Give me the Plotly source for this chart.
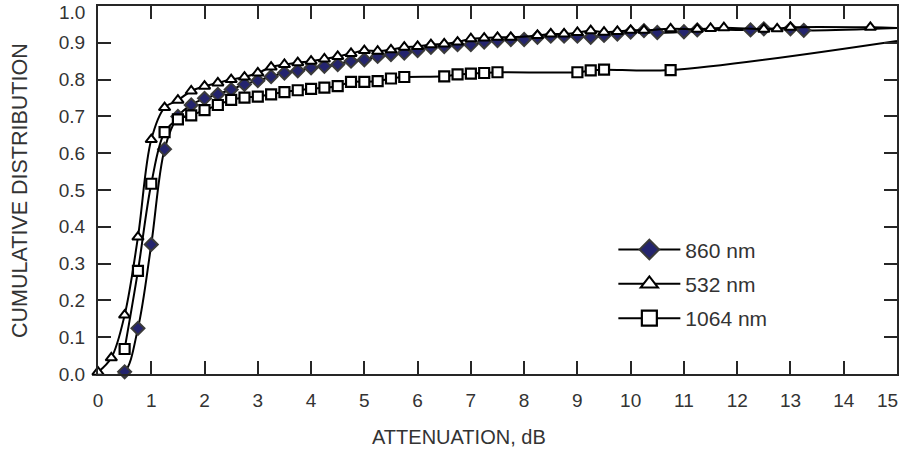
import plotly.graph_objects as go

# ---- data ----
x_860 = [0, 0.25, 0.5, 0.75, 1.0, 1.25, 1.5, 1.75, 2.0, 2.25, 2.5, 2.75, 3.0, 3.25, 3.5, 3.75,
         4.0, 4.25, 4.5, 4.75, 5.0, 5.25, 5.5, 5.75, 6.0, 6.25, 6.5, 6.75, 7.0, 7.25, 7.5, 7.75,
         8.0, 8.25, 8.5, 8.75, 9.0, 9.25, 9.5, 9.75, 10.0, 10.25, 10.5, 11.0, 11.25, 12.25, 12.5,
         13.0, 13.25, 15.0]
y_860 = [0.0, -0.004, 0.006, 0.124, 0.352, 0.611, 0.70, 0.731, 0.749, 0.760, 0.773, 0.787, 0.797,
         0.808, 0.818, 0.824, 0.832, 0.836, 0.841, 0.850, 0.854, 0.863, 0.868, 0.872, 0.879, 0.888,
         0.890, 0.895, 0.895, 0.902, 0.906, 0.909, 0.909, 0.915, 0.918, 0.918, 0.918, 0.915, 0.920,
         0.924, 0.929, 0.933, 0.928, 0.930, 0.935, 0.935, 0.938, 0.938, 0.934, 0.940]
hidden_860 = [0, 15.0]

x_532 = [0, 0.25, 0.5, 0.75, 1.0, 1.25, 1.5, 1.75, 2.0, 2.25, 2.5, 2.75, 3.0, 3.25, 3.5, 3.75,
         4.0, 4.25, 4.5, 4.75, 5.0, 5.25, 5.5, 5.75, 6.0, 6.25, 6.5, 6.75, 7.0, 7.25, 7.5, 7.75,
         8.25, 8.5, 8.75, 9.0, 9.25, 9.5, 9.75, 10.0, 10.25, 10.75, 11.25, 11.5, 11.75, 12.5,
         12.75, 13.0, 14.5, 15.0]
y_532 = [0.005, 0.044, 0.160, 0.372, 0.637, 0.724, 0.744, 0.769, 0.782, 0.791, 0.800, 0.807, 0.818,
         0.834, 0.841, 0.846, 0.850, 0.856, 0.863, 0.871, 0.879, 0.877, 0.881, 0.888, 0.890, 0.895,
         0.897, 0.902, 0.911, 0.913, 0.915, 0.915, 0.920, 0.924, 0.924, 0.928, 0.933, 0.929, 0.931,
         0.934, 0.934, 0.938, 0.937, 0.939, 0.941, 0.937, 0.938, 0.942, 0.942, 0.940]
hidden_532 = [15.0]

x_1064 = [0.5, 0.75, 1.0, 1.25, 1.5, 1.75, 2.0, 2.25, 2.5, 2.75, 3.0, 3.25, 3.5, 3.75, 4.0, 4.25,
          4.5, 4.75, 5.0, 5.25, 5.5, 5.75, 6.5, 6.75, 7.0, 7.25, 7.5, 9.0, 9.25, 9.5, 10.75, 15.0]
y_1064 = [0.068, 0.280, 0.517, 0.657, 0.692, 0.703, 0.717, 0.731, 0.745, 0.751, 0.754, 0.760, 0.766,
          0.771, 0.775, 0.778, 0.782, 0.794, 0.794, 0.796, 0.803, 0.807, 0.809, 0.814, 0.816, 0.818,
          0.820, 0.820, 0.825, 0.827, 0.826, 0.905]
hidden_1064 = [15.0]

x_ticks = list(range(0, 16))
y_ticks = [0.0, 0.1, 0.2, 0.3, 0.4, 0.5, 0.6, 0.7, 0.8, 0.9, 1.0]
x_title = "ATTENUATION, dB"
y_title = "CUMULATIVE DISTRIBUTION"

FONT = "Liberation Sans, Arial, Helvetica, sans-serif"
TXT = "#333333"
AX = "#262626"
TICKFONT = 19

series = [
    ("860 nm", x_860, y_860, hidden_860,
     dict(symbol="diamond", size=10, color="#24246e", opacity=1,
          line=dict(color="#3a3a3a", width=2))),
    ("532 nm", x_532, y_532, hidden_532,
     dict(symbol="triangle-up", size=10, color="white", opacity=1,
          line=dict(color="black", width=2))),
    ("1064 nm", x_1064, y_1064, hidden_1064,
     dict(symbol="square", size=10, color="white", opacity=1,
          line=dict(color="black", width=2.2))),
]

fig = go.Figure()
for name, xs, ys, hidden, mk in series:
    m = dict(mk)
    m["size"] = [0 if x in hidden else mk["size"] for x in xs]
    fig.add_trace(go.Scatter(
        x=xs, y=ys, name=name, mode="lines+markers", showlegend=False, legendgroup=name,
        line=dict(color="black", width=2, shape="spline", smoothing=1),
        marker=m, cliponaxis=False, hoverinfo="skip"))
# legend entries (no data)
for name, xs, ys, hidden, mk in series:
    m = dict(mk)
    m["size"] = 15
    fig.add_trace(go.Scatter(
        x=[None], y=[None], name=name, mode="lines+markers", legendgroup=name,
        line=dict(color="black", width=2), marker=m))

fig.update_layout(
    width=903, height=452,
    margin=dict(l=98, r=6, t=4, b=78),
    paper_bgcolor="white", plot_bgcolor="white",
    font=dict(family=FONT, size=TICKFONT, color=TXT),
    showlegend=True,
    legend=dict(x=0.645, y=0.393, xanchor="left", yanchor="top",
                bgcolor="rgba(0,0,0,0)", font=dict(size=21, color=TXT),
                tracegroupgap=4, itemwidth=62),
)
fig.update_xaxes(
    range=[0, 15], tickvals=x_ticks,
    ticktext=[str(v) if v != 15 else "" for v in x_ticks],
    ticks="inside", ticklen=13, tickwidth=1.5, tickcolor=AX,
    showline=True, linecolor=AX, linewidth=2, mirror="allticks",
    showgrid=False, zeroline=False, ticklabelstandoff=8,
)
fig.update_yaxes(
    range=[0, 1], tickvals=y_ticks,
    ticktext=[f"{v:.1f}" if v != 1.0 else "" for v in y_ticks],
    ticks="inside", ticklen=13, tickwidth=1.5, tickcolor=AX,
    showline=True, linecolor=AX, linewidth=2, mirror="allticks",
    showgrid=False, zeroline=False, ticklabelstandoff=7,
)
# edge tick labels nudged inward (as in the reference) and axis titles
fig.add_annotation(x=1, xref="paper", y=0, yref="paper", text=str(x_ticks[-1]), showarrow=False,
                   xanchor="center", yanchor="middle", xshift=-10, yshift=-26,
                   font=dict(size=TICKFONT, color=TXT))
fig.add_annotation(x=0, xref="paper", y=1.0, yref="y", text=f"{y_ticks[-1]:.1f}", showarrow=False,
                   xanchor="right", yanchor="middle", xshift=-11, yshift=-6,
                   font=dict(size=TICKFONT, color=TXT))
fig.add_annotation(x=0.452, xref="paper", y=-0.170, yref="paper", text=x_title, showarrow=False,
                   xanchor="center", yanchor="middle", font=dict(size=20, color=TXT))
fig.add_annotation(x=-0.0977, xref="paper", y=0.5, yref="paper", text=y_title, showarrow=False,
                   textangle=-90, xanchor="center", yanchor="middle",
                   font=dict(size=21.5, color=TXT))

fig.write_html("out.html", config={"displayModeBar": False},
               post_script="document.body.style.margin='0';")
